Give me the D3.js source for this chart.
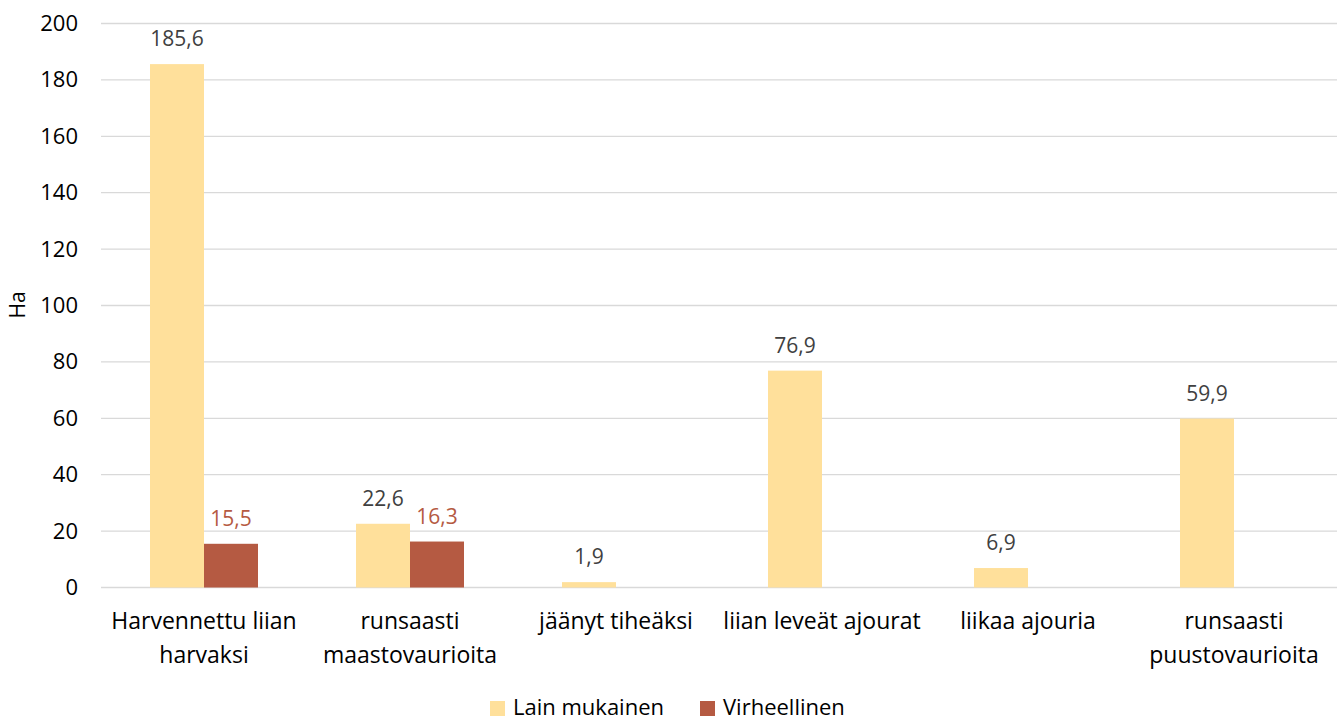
<!DOCTYPE html>
<html><head><meta charset="utf-8">
<script src="https://cdn.jsdelivr.net/npm/d3@7"></script>
<style>body{margin:0;background:#fff;} text{font-family:"Open Sans","Noto Sans",sans-serif;}</style>
</head><body><svg id="c" width="1339" height="722"></svg>
<script>
const categories = [["Harvennettu liian","harvaksi"],["runsaasti","maastovaurioita"],["jäänyt tiheäksi"],["liian leveät ajourat"],["liikaa ajouria"],["runsaasti","puustovaurioita"]];
const seriesNames = ["Lain mukainen","Virheellinen"];
const lainMukainen = [185.6, 22.6, 1.9, 76.9, 6.9, 59.9];
const virheellinen = [15.5, 16.3, null, null, null, null];
const yTicks = [0,20,40,60,80,100,120,140,160,180,200];
const colors = ["#FFE09B","#B55A42"];
const labelColors = ["#404040","#B55A42"];

const svg = d3.select("#c");
const m = {l:101, r:1337, t:23.5, b:587.5};
const x = d3.scaleBand().domain(d3.range(categories.length)).range([m.l, m.r]).paddingInner(0).paddingOuter(0);
const y = d3.scaleLinear().domain([0,200]).range([m.b, m.t]);
const barW = 54;
const x1 = d3.scaleBand().domain([0,1]).range([x.bandwidth()/2 - barW, x.bandwidth()/2 + barW]);

// gridlines
svg.append("g").selectAll("line").data(yTicks).join("line")
  .attr("x1", m.l).attr("x2", m.r).attr("y1", d=>y(d)).attr("y2", d=>y(d))
  .attr("stroke","#d9d9d9").attr("stroke-width",1.3);

// y axis labels
const yAxis = d3.axisLeft(y).tickValues(yTicks).tickSize(0).tickPadding(0);
const ya = svg.append("g").attr("transform","translate(78,0)").call(yAxis);
ya.select(".domain").remove();
ya.selectAll("text").attr("font-size",22).attr("fill","#000").style("font-family","'Open Sans',sans-serif");

svg.append("text").attr("transform","translate(25,305) rotate(-90)").attr("text-anchor","middle")
  .attr("font-size",21).attr("fill","#000").text("Ha");

const series = [lainMukainen, virheellinen];
series.forEach((vals,si)=>{
  const g = svg.append("g");
  const data = vals.map((v,i)=>({v,i})).filter(d=>d.v!=null);
  g.selectAll("rect").data(data).join("rect")
    .attr("x", d=>x(d.i)+x1(si)).attr("width", x1.bandwidth())
    .attr("y", d=>y(d.v)).attr("height", d=>y(0)-y(d.v))
    .attr("fill", colors[si]);
  g.selectAll("text").data(data).join("text")
    .attr("x", d=>x(d.i)+x1(si)+x1.bandwidth()/2).attr("y", d=>y(d.v)-18)
    .attr("text-anchor","middle").attr("font-size",21).attr("fill",labelColors[si])
    .text(d=>d3.format(".1f")(d.v).replace(".",","));
});

// category labels
const cg = svg.append("g");
categories.forEach((lines,i)=>{
  const t = cg.append("text").attr("text-anchor","middle").attr("font-size",23).attr("fill","#000");
  lines.forEach((ln,j)=>{
    t.append("tspan").attr("x", x(i)+x.bandwidth()/2).attr("y", 629 + j*34).text(ln);
  });
});

// legend
const lg = svg.append("g");
const legX = [490, 700];
seriesNames.forEach((n,i)=>{
  lg.append("rect").attr("x",legX[i]).attr("y",701).attr("width",15).attr("height",15).attr("fill",colors[i]);
  lg.append("text").attr("x",legX[i]+23).attr("y",715).attr("font-size",22).attr("fill","#000").text(n);
});
</script></body></html>
